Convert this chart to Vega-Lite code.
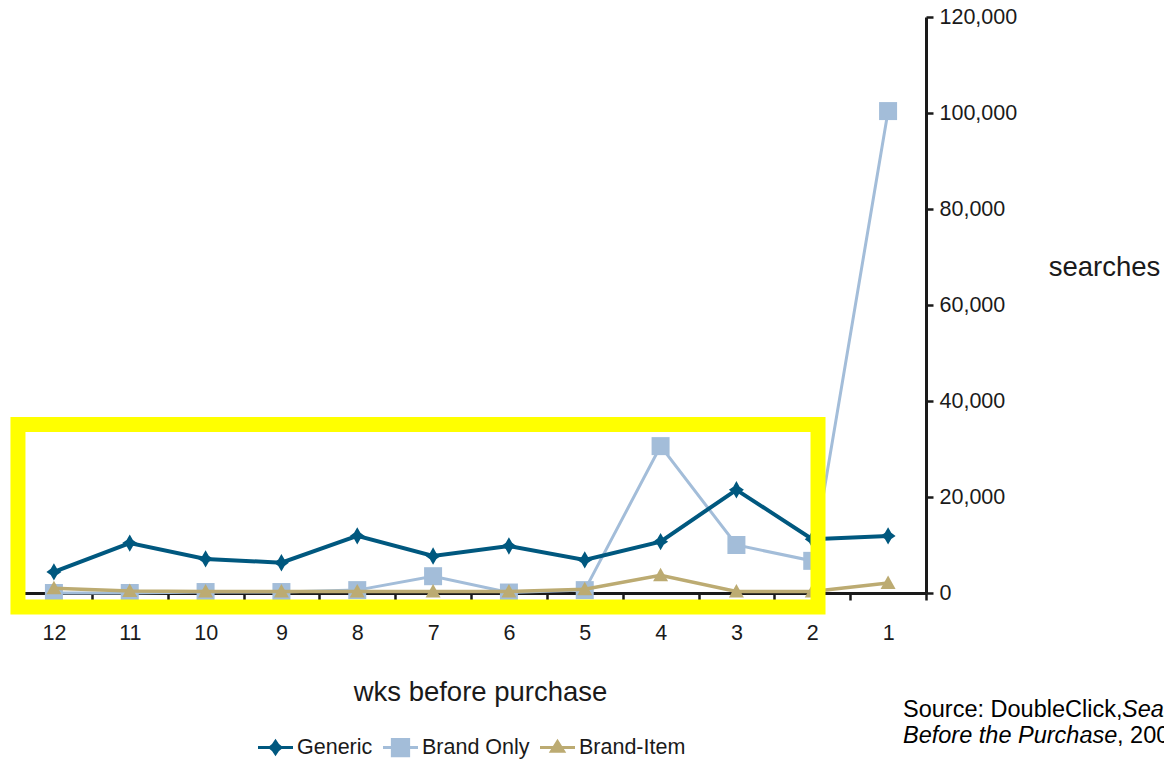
{
  "$schema": "https://vega.github.io/schema/vega-lite/v6.json",
  "width": 910,
  "height": 576,
  "autosize": {"type": "none"},
  "padding": {"left": 16, "top": 17, "right": 238, "bottom": 170},
  "background": "white",
  "config": {"view": {"stroke": null}, "font": "Liberation Sans"},
  "data": {
    "values": [
      {"week": 12, "series": "Generic", "searches": 4400},
      {"week": 11, "series": "Generic", "searches": 10400},
      {"week": 10, "series": "Generic", "searches": 7100},
      {"week": 9, "series": "Generic", "searches": 6300},
      {"week": 8, "series": "Generic", "searches": 11900},
      {"week": 7, "series": "Generic", "searches": 7700},
      {"week": 6, "series": "Generic", "searches": 9800},
      {"week": 5, "series": "Generic", "searches": 6900},
      {"week": 4, "series": "Generic", "searches": 10700},
      {"week": 3, "series": "Generic", "searches": 21500},
      {"week": 2, "series": "Generic", "searches": 11200},
      {"week": 1, "series": "Generic", "searches": 11900},
      {"week": 12, "series": "Brand Only", "searches": 0},
      {"week": 11, "series": "Brand Only", "searches": 0},
      {"week": 10, "series": "Brand Only", "searches": 200},
      {"week": 9, "series": "Brand Only", "searches": 200},
      {"week": 8, "series": "Brand Only", "searches": 600},
      {"week": 7, "series": "Brand Only", "searches": 3500},
      {"week": 6, "series": "Brand Only", "searches": 100},
      {"week": 5, "series": "Brand Only", "searches": 600},
      {"week": 4, "series": "Brand Only", "searches": 30600},
      {"week": 3, "series": "Brand Only", "searches": 10000},
      {"week": 2, "series": "Brand Only", "searches": 6700},
      {"week": 1, "series": "Brand Only", "searches": 100400},
      {"week": 12, "series": "Brand-Item", "searches": 1000},
      {"week": 11, "series": "Brand-Item", "searches": 400},
      {"week": 10, "series": "Brand-Item", "searches": 300},
      {"week": 9, "series": "Brand-Item", "searches": 300},
      {"week": 8, "series": "Brand-Item", "searches": 300},
      {"week": 7, "series": "Brand-Item", "searches": 300},
      {"week": 6, "series": "Brand-Item", "searches": 300},
      {"week": 5, "series": "Brand-Item", "searches": 800},
      {"week": 4, "series": "Brand-Item", "searches": 3700},
      {"week": 3, "series": "Brand-Item", "searches": 300},
      {"week": 2, "series": "Brand-Item", "searches": 300},
      {"week": 1, "series": "Brand-Item", "searches": 2100}
    ]
  },
  "encoding": {
    "x": {
      "field": "week", "type": "quantitative",
      "scale": {"domain": [12.5, 0.5], "nice": false, "zero": false},
      "axis": {
        "values": [12.5, 11.5, 10.5, 9.5, 8.5, 7.5, 6.5, 5.5, 4.5, 3.5, 2.5, 1.5, 0.5],
        "labelExpr": "datum.value < 1 ? '' : format(datum.value - 0.5, 'd')",
        "labelOffset": 38, "labelFlush": false, "labelOverlap": false,
        "labelFont": "Liberation Sans", "labelFontSize": 21.5, "labelColor": "#1a1a1a", "labelPadding": 22,
        "tickSize": 7, "tickWidth": 2.5, "tickColor": "#1a1a1a",
        "domainColor": "#1a1a1a", "domainWidth": 3, "grid": false,
        "title": "wks before purchase", "titleFont": "Liberation Sans", "titleFontSize": 27.5,
        "titleFontWeight": "normal", "titleColor": "#1a1a1a",
        "titleX": 464, "titleY": 107, "titleAlign": "center", "titleBaseline": "alphabetic"
      }
    },
    "y": {
      "field": "searches", "type": "quantitative",
      "scale": {"domain": [0, 120000], "nice": false},
      "axis": {
        "orient": "right",
        "values": [0, 20000, 40000, 60000, 80000, 100000, 120000],
        "format": ",d", "labelFlush": false, "labelOverlap": false,
        "labelFont": "Liberation Sans", "labelFontSize": 21.5, "labelColor": "#1a1a1a", "labelPadding": 6,
        "tickSize": 7, "tickWidth": 2.5, "tickColor": "#1a1a1a",
        "domainColor": "#1a1a1a", "domainWidth": 3, "grid": false,
        "title": "searches", "titleFont": "Liberation Sans", "titleFontSize": 27.5,
        "titleFontWeight": "normal", "titleColor": "#1a1a1a", "titleAngle": 0,
        "titleX": 178, "titleY": 258, "titleAlign": "center", "titleBaseline": "alphabetic"
      }
    }
  },
  "layer": [
    {
      "transform": [{"filter": "datum.series === 'Brand Only'"}],
      "mark": {"type": "line", "strokeWidth": 3, "color": "#a3bdd9"}
    },
    {
      "transform": [{"filter": "datum.series === 'Brand Only'"}],
      "mark": {"type": "point", "filled": true, "opacity": 1, "size": 225, "color": "#a3bdd9", "shape": "M-1.2,-1.2H1.2V1.2H-1.2Z"}
    },
    {
      "transform": [{"filter": "datum.series === 'Brand-Item'"}],
      "mark": {"type": "line", "strokeWidth": 3.5, "color": "#bcab72"}
    },
    {
      "transform": [{"filter": "datum.series === 'Brand-Item'"}],
      "mark": {"type": "point", "filled": true, "opacity": 1, "size": 225, "color": "#bcab72", "shape": "M0,-1L1,0.8H-1Z"}
    },
    {
      "transform": [{"filter": "datum.series === 'Generic'"}],
      "mark": {"type": "line", "strokeWidth": 4, "color": "#00587f"}
    },
    {
      "transform": [{"filter": "datum.series === 'Generic'"}],
      "mark": {"type": "point", "filled": true, "opacity": 1, "size": 250, "color": "#00587f", "shape": "M0,-1.1L0.4,-0.4L0.95,0L0.4,0.4L0,1.1L-0.4,0.4L-0.95,0L-0.4,-0.4Z"}
    },
    {
      "data": {"values": [{"week": 12.474, "week2": 1.924, "searches": 35100, "searches2": -2900}]},
      "mark": {"type": "rect", "filled": false, "strokeWidth": 15, "opacity": 1, "color": "#ffff00"},
      "encoding": {
        "x2": {"field": "week2"},
        "y2": {"field": "searches2"}
      }
    },
    {
      "data": {"values": [
        {"week": 0.803, "searches": -25833, "label": "Source: DoubleClick,"},
        {"week": -2.019, "searches": -31250, "label": ", 2005"}
      ]},
      "mark": {"type": "text", "align": "left", "baseline": "alphabetic", "font": "Liberation Sans", "fontSize": 23.5, "color": "#000000"},
      "encoding": {
        "text": {"field": "label"}
      }
    },
    {
      "data": {"values": [
        {"week": -2.085, "searches": -25833, "label": "Search"},
        {"week": 0.803, "searches": -31250, "label": "Before the Purchase"}
      ]},
      "mark": {"type": "text", "align": "left", "baseline": "alphabetic", "font": "Liberation Sans", "fontSize": 23.5, "fontStyle": "italic", "color": "#000000"},
      "encoding": {
        "text": {"field": "label"}
      }
    },
    {
      "transform": [{"filter": "datum.searches < 0"}],
      "mark": {"type": "point", "filled": true, "opacity": 1},
      "encoding": {
        "color": {
          "field": "series", "type": "nominal",
          "scale": {"domain": ["Generic", "Brand Only", "Brand-Item"], "range": ["#00587f", "#a3bdd9", "#bcab72"]},
          "legend": {
            "title": null, "orient": "none", "legendX": 242, "legendY": 713, "direction": "horizontal",
            "symbolSize": 1225, "symbolStrokeWidth": 0, "symbolOpacity": 1, "labelFont": "Liberation Sans", "labelFontSize": 21.5,
            "labelColor": "#1a1a1a", "labelOffset": 4, "columnPadding": 10
          }
        },
        "shape": {
          "field": "series", "type": "nominal",
          "scale": {
            "domain": ["Generic", "Brand Only", "Brand-Item"],
            "range": [
              "M-1,-0.085H1V0.085H-1Z M0,-0.5L0.2,-0.2L0.45,0L0.2,0.2L0,0.5L-0.2,0.2L-0.45,0L-0.2,-0.2Z",
              "M-1,-0.085H1V0.085H-1Z M-0.55,-0.55H0.55V0.55H-0.55Z",
              "M-1,-0.085H1V0.085H-1Z M0,-0.5L0.5,0.3H-0.5Z"
            ]
          },
          "legend": {
            "title": null, "orient": "none", "legendX": 242, "legendY": 713, "direction": "horizontal",
            "symbolSize": 1225, "symbolStrokeWidth": 0, "symbolOpacity": 1, "labelFont": "Liberation Sans", "labelFontSize": 21.5,
            "labelColor": "#1a1a1a", "labelOffset": 4, "columnPadding": 10
          }
        }
      }
    }
  ]
}
